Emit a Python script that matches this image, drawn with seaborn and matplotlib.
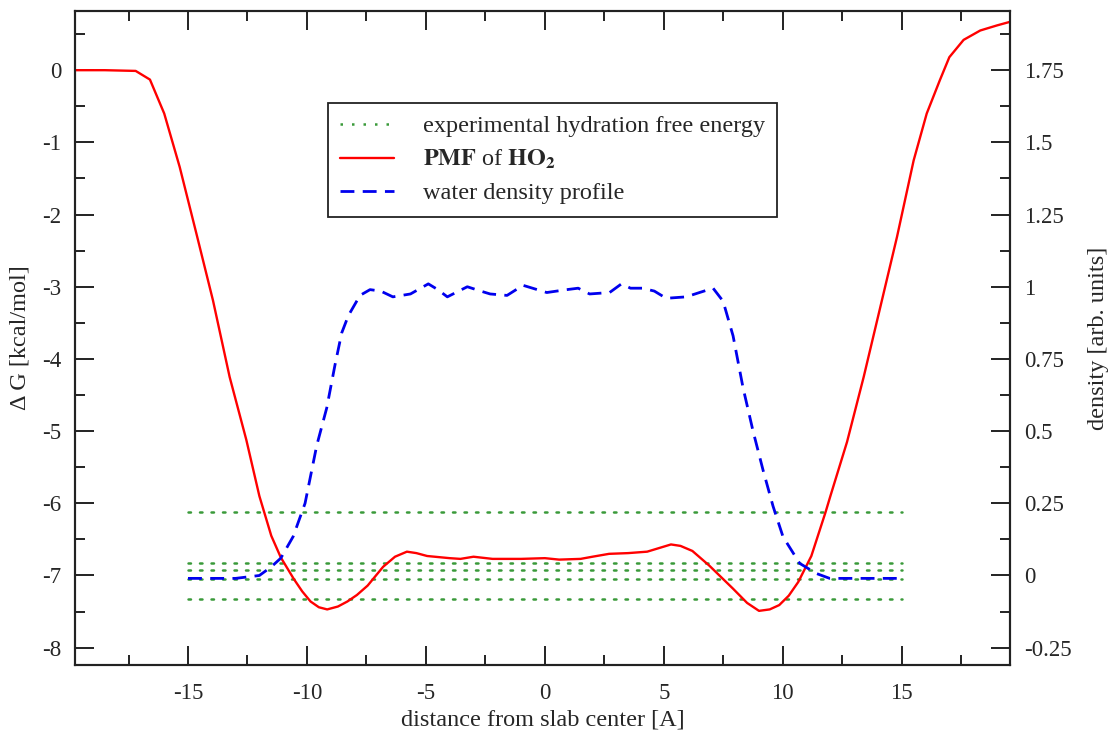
import numpy as np
import pandas as pd
import matplotlib
matplotlib.use("Agg")
import matplotlib.pyplot as plt
from matplotlib.ticker import MultipleLocator, FixedLocator
from matplotlib.lines import Line2D
import seaborn as sns

# ---------------- data ----------------
pmf_x = [-19.75, -18.5, -17.2, -16.6, -16.0, -15.35, -14.65, -13.95, -13.25, -12.55,
         -12.0, -11.5, -11.1, -10.55, -10.2, -9.85, -9.5, -9.15, -8.7, -8.3,
         -7.9, -7.45, -6.8, -6.3, -5.8, -5.4, -4.95, -4.0, -3.55, -3.0,
         -2.2, -1.0, 0.0, 0.6, 1.5, 2.0, 2.7, 3.5, 4.3, 4.9,
         5.3, 5.7, 6.2, 6.9, 7.4, 7.9, 8.5, 9.0, 9.45, 9.85,
         10.25, 10.65, 11.2, 11.8, 12.0, 12.7, 13.4, 14.1, 14.8, 15.5,
         16.05, 16.6, 17.0, 17.6, 18.3, 19.0, 19.55]
pmf_g = [0.0, 0.0, -0.01, -0.13, -0.60, -1.34, -2.26, -3.19, -4.25, -5.12,
         -5.90, -6.45, -6.75, -7.05, -7.22, -7.36, -7.44, -7.47, -7.43, -7.36,
         -7.27, -7.14, -6.88, -6.74, -6.67, -6.69, -6.73, -6.76, -6.77, -6.74,
         -6.77, -6.77, -6.76, -6.78, -6.77, -6.74, -6.70, -6.69, -6.67, -6.61,
         -6.57, -6.59, -6.66, -6.86, -7.02, -7.18, -7.38, -7.49, -7.47, -7.41,
         -7.28, -7.09, -6.73, -6.12, -5.90, -5.15, -4.25, -3.28, -2.31, -1.25,
         -0.60, -0.14, 0.18, 0.42, 0.55, 0.62, 0.67]

dens_x = [-15, -14, -13, -12.5, -12.0, -11.5, -11.1, -10.58, -10.08, -9.59,
          -9.17, -8.82, -8.54, -8.26, -7.77, -7.35, -6.9, -6.39, -5.65, -4.9,
          -4.5, -4.1, -3.26, -2.7, -2.3, -1.59, -0.92, 0.08, 0.92, 1.4,
          1.88, 2.72, 3.22, 3.6, 4.1, 4.6, 5.1, 5.94, 6.5, 7.07,
          7.49, 7.91, 8.33, 8.75, 9.17, 9.59, 10.01, 10.71, 11.41, 11.97,
          13, 14, 15]
dens_y = [-0.01, -0.01, -0.01, -0.005, 0.0, 0.03, 0.06, 0.135, 0.25, 0.45,
          0.58, 0.73, 0.84, 0.90, 0.97, 0.99, 0.985, 0.965, 0.975, 1.01,
          0.99, 0.965, 1.0, 0.985, 0.975, 0.97, 1.005, 0.98, 0.99, 0.995,
          0.975, 0.98, 1.01, 0.995, 0.995, 0.985, 0.96, 0.965, 0.98, 0.995,
          0.95, 0.83, 0.65, 0.50, 0.365, 0.24, 0.134, 0.042, 0.007, -0.01,
          -0.01, -0.01, -0.01]

exp_levels = [-6.12, -6.83, -6.92, -7.05, -7.33]
exp_x_range = [-15, 15]

labels = ["experimental hydration free energy",
          r"$\mathbf{PMF}$ of $\mathbf{HO_2}$",
          "water density profile"]

# ---------------- style ----------------
sns.set_style("ticks")
plt.rcParams['font.family'] = ['Liberation Serif', 'DejaVu Serif']
plt.rcParams['mathtext.fontset'] = 'stix'
plt.rcParams['axes.linewidth'] = 1.5
plt.rcParams['axes.edgecolor'] = '#222222'

RED = "#ff0000"
BLUE = "#0000ee"
GREEN = "#3a9a3a"

fig = plt.figure(figsize=(11.12, 7.33), dpi=100)
ax = fig.add_axes([75/1112, 1-665/733, (1010-75)/1112, (665-11)/733])
ax2 = ax.twinx()

# green experimental lines
for lv in exp_levels:
    df_e = pd.DataFrame({"x": exp_x_range, "y": [lv, lv]})
    sns.lineplot(data=df_e, x="x", y="y", ax=ax, color=GREEN, lw=1.8,
                 linestyle=(0, (1, 3.6)), dash_capstyle="round")

# PMF
df_p = pd.DataFrame({"x": pmf_x, "g": pmf_g})
sns.lineplot(data=df_p, x="x", y="g", ax=ax, color=RED, lw=1.7, sort=False)

# density on right axis
df_d = pd.DataFrame({"x": dens_x, "d": dens_y})
sns.lineplot(data=df_d, x="x", y="d", ax=ax2, color=BLUE, lw=2.0,
             linestyle=(0, (5, 3)), sort=False)

# limits
ax.set_xlim(-19.75, 19.55)
ax.set_ylim(-8.24, 0.82)
ax2.set_ylim((-8.24 + 7) / 4, (0.82 + 7) / 4)

# ticks
ax.xaxis.set_major_locator(MultipleLocator(5))
ax.xaxis.set_minor_locator(MultipleLocator(2.5))
ax.yaxis.set_major_locator(MultipleLocator(1))
ax.yaxis.set_minor_locator(MultipleLocator(0.5))
ax2.yaxis.set_major_locator(FixedLocator([-0.25, 0, 0.25, 0.5, 0.75, 1, 1.25, 1.5, 1.75]))
ax2.yaxis.set_minor_locator(MultipleLocator(0.125))

ax.tick_params(axis='x', which='both', direction='in', top=True, bottom=True,
               labelsize=16.5, pad=13)
ax.tick_params(axis='y', which='both', direction='in', left=True, right=False,
               labelsize=16.5, pad=10)
ax.tick_params(which='major', length=14, width=1.4, color='#222222')
ax.tick_params(which='minor', length=7, width=1.4, color='#222222')
ax2.tick_params(axis='y', which='both', direction='in', right=True, left=False,
                labelsize=16.5, pad=10)
ax2.tick_params(which='major', length=14, width=1.4, color='#222222')
ax2.tick_params(which='minor', length=7, width=1.4, color='#222222')

ax.set_xticklabels([f"{int(v)}" for v in ax.get_xticks()])
ax.set_yticklabels([f"{int(v)}" for v in ax.get_yticks()])
ax2.set_yticklabels(["-0.25", "0", "0.25", "0.5", "0.75", "1", "1.25", "1.5", "1.75"])

ax.set_xlabel("distance from slab center [A]", fontsize=17.5, labelpad=4)
ax.set_ylabel("Δ G [kcal/mol]", fontsize=17.5, labelpad=8)
ax2.set_ylabel("density [arb. units]", fontsize=17.5, labelpad=12)

for a in (ax, ax2):
    for s in a.spines.values():
        s.set_visible(True)
        s.set_linewidth(1.5)

# legend
handles = [Line2D([], [], color=GREEN, lw=1.8, linestyle=(0, (1, 3.6))),
           Line2D([], [], color=RED, lw=1.7),
           Line2D([], [], color=BLUE, lw=2.0, linestyle=(0, (5, 3)))]
leg = ax2.legend(handles, labels, loc='upper left',
                 bbox_to_anchor=((328 - 75) / 935, 1 - (103 - 11) / 654),
                 fontsize=17.5, frameon=True, fancybox=False, handlelength=2.2,
                 borderpad=0.5, labelspacing=0.45, handletextpad=1.2,
                 borderaxespad=0)
leg.get_frame().set_edgecolor('#222222')
leg.get_frame().set_linewidth(1.3)
leg.get_frame().set_alpha(1)

fig.savefig("out.png", dpi=100)
